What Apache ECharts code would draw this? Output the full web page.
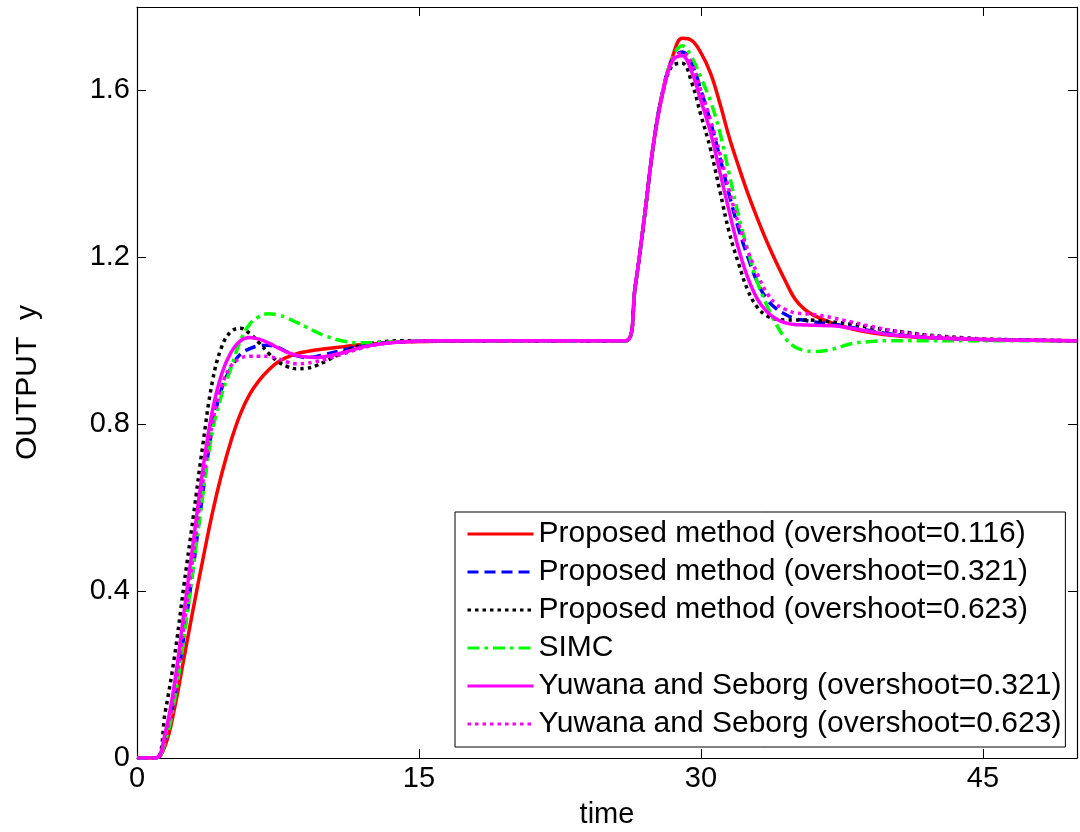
<!DOCTYPE html>
<html>
<head>
<meta charset="utf-8">
<script src="https://cdn.jsdelivr.net/npm/echarts@6/dist/echarts.min.js"></script>
<style>
html, body { margin: 0; padding: 0; background: #ffffff; }
#chart { width: 1080px; height: 832px; }
</style>
</head>
<body>
<div id="chart"></div>
<script>
// Sample times shared by every response curve
const time = [0, 1, 1.5, 2, 2.5, 3, 3.5, 4, 4.5, 5,
  5.5, 6, 6.5, 7, 7.5, 8, 8.5, 9, 9.5, 10,
  11, 12, 13, 14, 16, 20, 26,
  26.5, 27, 27.5, 28, 28.5, 29, 29.5, 30,
  30.5, 31, 31.5, 32, 32.5, 33, 33.5, 34, 34.5, 35, 35.5,
  36, 37, 38, 39, 40, 41, 42, 44, 46, 50];

// Output y for each tuning
const proposed116 = [0, 0, 0.03, 0.12, 0.24, 0.36, 0.475, 0.585, 0.68, 0.76,
  0.825, 0.872, 0.905, 0.93, 0.949, 0.961, 0.969, 0.974, 0.978, 0.981,
  0.986, 0.991, 0.994, 0.997, 0.999, 1, 1,
  1.13, 1.30, 1.48, 1.605, 1.683, 1.725, 1.72, 1.69,
  1.642, 1.57, 1.488, 1.418, 1.352, 1.293, 1.238, 1.188, 1.142, 1.1, 1.076,
  1.061, 1.042, 1.029, 1.02, 1.014, 1.01, 1.007, 1.004, 1.002, 1.0];

const proposed321 = [0, 0, 0.05, 0.15, 0.295, 0.46, 0.635, 0.79, 0.885, 0.935,
  0.968, 0.981, 0.988, 0.989, 0.984, 0.973, 0.964, 0.96, 0.962, 0.967,
  0.978, 0.988, 0.994, 0.997, 1, 1, 1,
  1.13, 1.30, 1.48, 1.605, 1.675, 1.692, 1.665, 1.6,
  1.525, 1.44, 1.35, 1.268, 1.2, 1.14, 1.1, 1.077, 1.063, 1.053, 1.049,
  1.045, 1.04, 1.032, 1.024, 1.017, 1.012, 1.008, 1.004, 1.002, 1.0];

const proposed623 = [0, 0, 0.11, 0.245, 0.415, 0.58, 0.75, 0.9, 0.985, 1.022,
  1.03, 1.017, 0.995, 0.97, 0.95, 0.938, 0.933, 0.934, 0.94, 0.95,
  0.973, 0.99, 0.997, 1, 1, 1, 1,
  1.13, 1.30, 1.48, 1.6, 1.66, 1.665, 1.62, 1.54,
  1.46, 1.36, 1.26, 1.185, 1.12, 1.08, 1.06, 1.052, 1.05, 1.05, 1.05,
  1.049, 1.045, 1.04, 1.032, 1.025, 1.02, 1.014, 1.007, 1.003, 1.0];

const simc = [0, 0, 0.04, 0.14, 0.29, 0.46, 0.63, 0.78, 0.87, 0.935,
  1.0, 1.04, 1.058, 1.065, 1.062, 1.054, 1.044, 1.033, 1.022, 1.012,
  0.999, 0.995, 0.996, 0.998, 1, 1, 1,
  1.13, 1.30, 1.48, 1.605, 1.68, 1.707, 1.68, 1.63,
  1.575, 1.5, 1.40, 1.30, 1.215, 1.14, 1.085, 1.04, 1.005, 0.985, 0.977,
  0.974, 0.98, 0.993, 0.998, 1.0, 1.0, 1.0, 1.0, 1.0, 1.0];

const yuwana321 = [0, 0, 0.06, 0.18, 0.35, 0.52, 0.69, 0.83, 0.92, 0.972,
  1.0, 1.008, 1.004, 0.995, 0.983, 0.972, 0.965, 0.961, 0.96, 0.962,
  0.972, 0.985, 0.993, 0.997, 1, 1, 1,
  1.13, 1.30, 1.48, 1.6, 1.672, 1.683, 1.645, 1.575,
  1.5, 1.405, 1.31, 1.22, 1.15, 1.1, 1.07, 1.052, 1.043, 1.039, 1.038,
  1.037, 1.036, 1.03, 1.022, 1.015, 1.011, 1.008, 1.004, 1.002, 1.0];

const yuwana623 = [0, 0, 0.05, 0.16, 0.32, 0.49, 0.66, 0.8, 0.89, 0.94,
  0.958, 0.963, 0.963, 0.962, 0.957, 0.949, 0.945, 0.946, 0.95, 0.955,
  0.969, 0.983, 0.992, 0.997, 1, 1, 1,
  1.13, 1.30, 1.48, 1.605, 1.675, 1.69, 1.665, 1.6,
  1.53, 1.45, 1.36, 1.28, 1.215, 1.16, 1.115, 1.088, 1.075, 1.067, 1.065,
  1.063, 1.055, 1.045, 1.035, 1.026, 1.019, 1.013, 1.006, 1.003, 1.0];

const seriesNames = [
  'Proposed method (overshoot=0.116)',
  'Proposed method (overshoot=0.321)',
  'Proposed method (overshoot=0.623)',
  'SIMC',
  'Yuwana and Seborg (overshoot=0.321)',
  'Yuwana and Seborg (overshoot=0.623)'
];

const FONT = '"Liberation Sans", Arial, Helvetica, sans-serif';

const curves = [
  { values: proposed116, color: '#ff0000', type: 'solid' },
  { values: proposed321, color: '#0000ff', type: [11, 6] },
  { values: proposed623, color: '#000000', type: [3.5, 4] },
  { values: simc,        color: '#00ff00', type: [12, 5, 3.5, 5] },
  { values: yuwana321,   color: '#ff00ff', type: 'solid' },
  { values: yuwana623,   color: '#ff00ff', type: [3.5, 4] }
];

const series = curves.map((c, k) => ({
  name: seriesNames[k],
  type: 'line',
  data: time.map((t, i) => [t, c.values[i]]),
  showSymbol: false,
  symbol: 'none',
  smooth: 0.4,
  color: c.color,
  itemStyle: { color: c.color },
  lineStyle: { color: c.color, width: 3.5, type: c.type, cap: 'butt' },
  emphasis: { disabled: true },
  z: 2 + k
}));

const axisLineStyle = { show: true, onZero: false, lineStyle: { color: '#000', width: 1.2 } };
const tickStyle = { show: true, inside: true, length: 9, lineStyle: { color: '#000', width: 1 } };

const chart = echarts.init(document.getElementById('chart'), null, { renderer: 'canvas' });
chart.setOption({
  animation: false,
  backgroundColor: '#ffffff',
  grid: { left: 137, right: 3, top: 7, bottom: 74, containLabel: false, outerBoundsMode: 'none' },
  xAxis: [
    {
      type: 'value', min: 0, max: 50, interval: 15, position: 'bottom',
      axisLine: axisLineStyle, axisTick: tickStyle, splitLine: { show: false },
      axisLabel: { color: '#000', fontSize: 29, fontFamily: FONT, margin: 6, showMaxLabel: false },
      name: 'time', nameLocation: 'middle', nameGap: 42,
      nameTextStyle: { color: '#000', fontSize: 29, fontFamily: FONT }
    },
    {
      type: 'value', min: 0, max: 50, interval: 15, position: 'top',
      axisLine: axisLineStyle, axisTick: tickStyle, splitLine: { show: false },
      axisLabel: { show: false }
    }
  ],
  yAxis: [
    {
      type: 'value', min: 0, max: 1.8, interval: 0.4, position: 'left',
      axisLine: axisLineStyle, axisTick: tickStyle, splitLine: { show: false },
      axisLabel: { color: '#000', fontSize: 29, fontFamily: FONT, margin: 7, showMaxLabel: false },
      name: 'OUTPUT  y', nameLocation: 'middle', nameGap: 94, nameRotate: 90,
      nameTextStyle: { color: '#000', fontSize: 30, fontFamily: FONT }
    },
    {
      type: 'value', min: 0, max: 1.8, interval: 0.4, position: 'right',
      axisLine: axisLineStyle, axisTick: tickStyle, splitLine: { show: false },
      axisLabel: { show: false }
    }
  ],
  legend: {
    data: seriesNames,
    orient: 'vertical',
    left: 455, top: 512,
    padding: [7, 4, 8, 11],
    backgroundColor: '#ffffff',
    borderColor: '#000000', borderWidth: 1, borderRadius: 0,
    itemWidth: 66, itemHeight: 14, itemGap: 8,
    selectedMode: false,
    itemStyle: { opacity: 0, borderWidth: 0 },
    lineStyle: { width: 3 },
    textStyle: { color: '#000', fontSize: 30, fontFamily: FONT, lineHeight: 30 }
  },
  series: series
});
</script>
</body>
</html>
